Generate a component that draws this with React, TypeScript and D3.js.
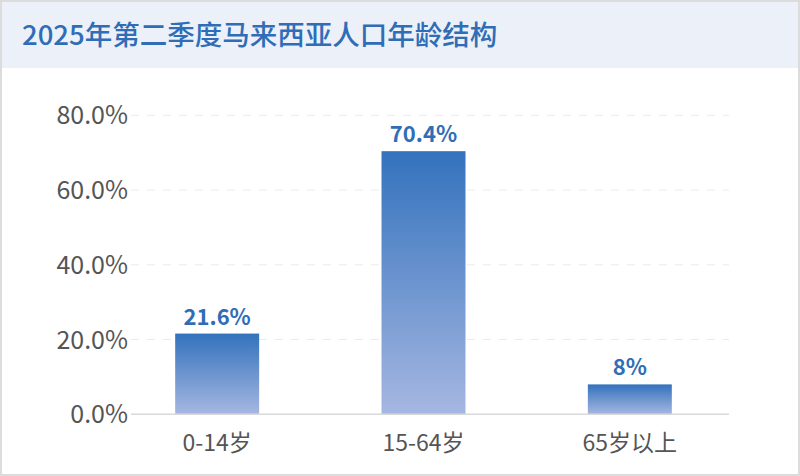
import * as d3 from 'd3';

const TITLE = '2025年第二季度马来西亚人口年龄结构';
const categories = ['0-14岁', '15-64岁', '65岁以上'];
const shares = [21.6, 70.4, 8];
const shareLabels = ['21.6%', '70.4%', '8%'];
const yTicks = [0, 20, 40, 60, 80];

const WIDTH = 800;
const HEIGHT = 476;
const HEADER_H = 68;
const PLOT = { left: 131, right: 729, top: 115.3, bottom: 414.3 };
const FONT = '"Noto Sans CJK SC", "Noto Sans", sans-serif';

export default function App() {
  const x = d3
    .scaleBand<string>()
    .domain(categories)
    .range([114, 733])
    .paddingInner(0.593)
    .paddingOuter(0.2965);
  const y = d3.scaleLinear().domain([0, 80]).range([PLOT.bottom, PLOT.top]);

  return (
    <div style={{ position: 'absolute', left: 0, top: 0 }}>
      <svg width={WIDTH} height={HEIGHT} style={{ display: 'block', fontFamily: FONT }}>
        <defs>
          <linearGradient id="barFill" x1="0" y1="0" x2="0" y2="1">
            <stop offset="0%" stopColor="#3372bd" />
            <stop offset="100%" stopColor="#a6b7e1" />
          </linearGradient>
        </defs>

        {/* Card */}
        <rect x={1} y={1} width={WIDTH - 2} height={HEIGHT - 2} fill="#fff" stroke="#dcdcdc" strokeWidth={2} />
        <rect x={2} y={2} width={WIDTH - 4} height={HEADER_H - 2} fill="#ecf0f8" />
        <text x={22} y={45} fill="#2f6db7" fontSize={27.5} fontWeight={500}>
          {TITLE}
        </text>

        {/* Grid + y ticks */}
        {yTicks.map((t) => (
          <g key={t}>
            {t !== 0 && (
              <line
                x1={PLOT.left}
                x2={PLOT.right}
                y1={y(t)}
                y2={y(t)}
                stroke="#ebebeb"
                strokeWidth={1}
                strokeDasharray="8 8"
              />
            )}
            <text
              x={128}
              y={y(t)}
              dy="0.36em"
              textAnchor="end"
              fill="#555"
              fontSize={25}
            >
              {t.toFixed(1)}%
            </text>
          </g>
        ))}

        {/* Bars */}
        {categories.map((c, i) => (
          <g key={c}>
            <rect
              x={x(c)}
              y={y(shares[i])}
              width={x.bandwidth()}
              height={PLOT.bottom - y(shares[i])}
              fill="url(#barFill)"
            />
            <text
              x={(x(c) ?? 0) + x.bandwidth() / 2}
              y={y(shares[i]) - 9}
              textAnchor="middle"
              fill="#2f6db7"
              fontSize={22}
              fontWeight={700}
            >
              {shareLabels[i]}
            </text>
            <text
              x={(x(c) ?? 0) + x.bandwidth() / 2}
              y={450.5}
              textAnchor="middle"
              fill="#555"
              fontSize={23}
            >
              {c}
            </text>
          </g>
        ))}

        {/* Axis line */}
        <line x1={PLOT.left} x2={PLOT.right} y1={PLOT.bottom} y2={PLOT.bottom} stroke="#d9d9d9" strokeWidth={1.5} />
      </svg>
    </div>
  );
}
